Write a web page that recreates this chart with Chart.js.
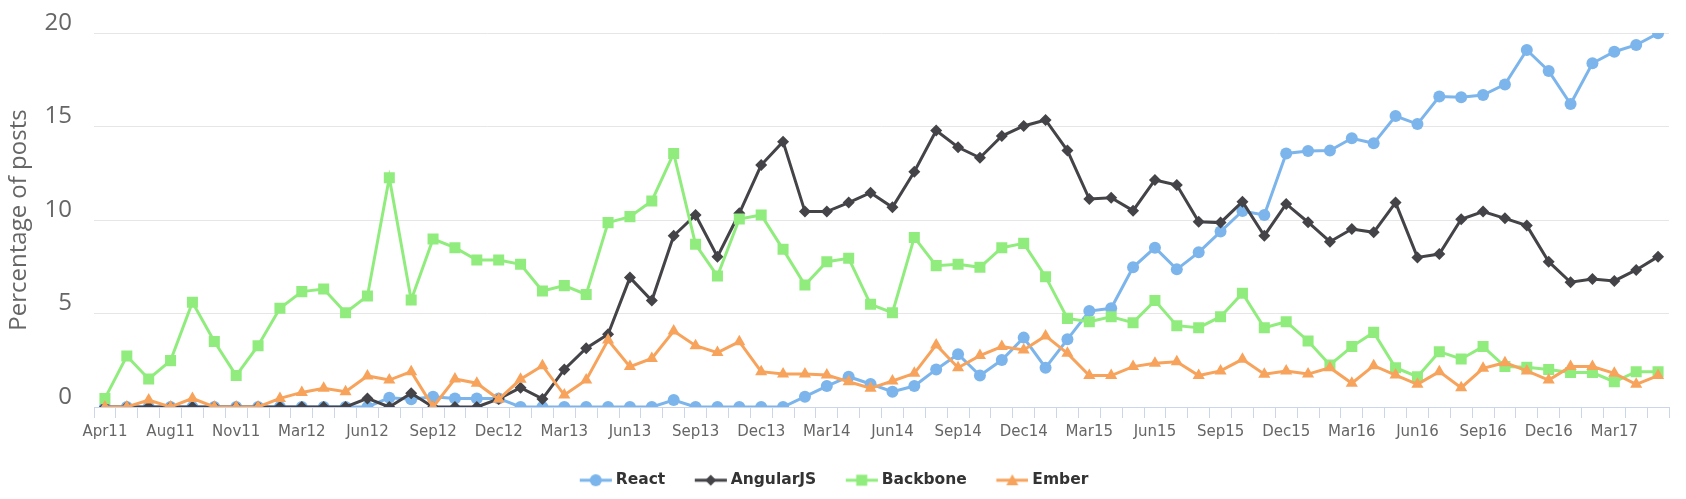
<!DOCTYPE html>
<html>
<head>
<meta charset="utf-8">
<script src="https://cdn.jsdelivr.net/npm/chart.js@4"></script>
<style>
html, body { margin: 0; padding: 0; background: #fff; }
#wrap { width: 1686px; height: 499px; }
</style>
</head>
<body>
<div id="wrap"><canvas id="energyChart" width="1686" height="499"></canvas></div>
<script>
// ----------------------------
// DATA
// ----------------------------

const months = ['Apr11','May11','Jun11','Aug11','Sep11','Oct11','Nov11','Dec11','Jan12','Mar12','Apr12','May12',
  'Jun12','Jul12','Aug12','Sep12','Oct12','Nov12','Dec12','Jan13','Feb13','Mar13','Apr13','May13',
  'Jun13','Jul13','Aug13','Sep13','Oct13','Nov13','Dec13','Jan14','Feb14','Mar14','Apr14','May14',
  'Jun14','Jul14','Aug14','Sep14','Oct14','Nov14','Dec14','Jan15','Feb15','Mar15','Apr15','May15',
  'Jun15','Jul15','Aug15','Sep15','Oct15','Nov15','Dec15','Jan16','Feb16','Mar16','Apr16','May16',
  'Jun16','Jul16','Aug16','Sep16','Oct16','Nov16','Dec16','Jan17','Feb17','Mar17','Apr17','May17']

const react = [0,0,0,0,0,0,0,0,0,0,0,0,
  0,0.5,0.41,0.55,0.46,0.46,0.46,0,0,0,0,0,
  0,0,0.37,0,0,0,0,0,0.55,1.12,1.62,1.23,
  0.82,1.12,2.01,2.82,1.68,2.51,3.71,2.1,3.62,5.13,5.28,7.47,
  8.52,7.36,8.27,9.38,10.48,10.27,13.56,13.69,13.71,14.37,14.1,15.56,
  15.13,16.6,16.56,16.68,17.25,19.09,17.97,16.2,18.38,19.0,19.36,19.98]

const angular = [0,0,0,0,0,0,0,0,0,0,0,0,
  0.46,0,0.73,0,0,0,0.43,1.03,0.43,2.01,3.14,3.89,
  6.92,5.69,9.16,10.27,8.04,10.36,12.94,14.19,10.45,10.45,10.93,11.46,
  10.68,12.58,14.78,13.89,13.33,14.49,15.03,15.35,13.71,11.12,11.19,10.5,
  12.14,11.87,9.91,9.86,10.98,9.16,10.86,9.88,8.84,9.52,9.34,10.93,
  8.0,8.18,10.04,10.45,10.09,9.7,7.77,6.67,6.84,6.74,7.33,8.04]

const backbone = [0.46,2.73,1.5,2.48,5.6,3.5,1.68,3.28,5.28,6.17,6.31,5.04,
  5.94,12.26,5.72,8.98,8.52,7.86,7.86,7.63,6.2,6.49,6.02,9.86,
  10.18,11.02,13.56,8.7,7.0,10.05,10.27,8.43,6.52,7.77,7.95,5.49,
  5.04,9.07,7.56,7.63,7.47,8.52,8.75,6.97,4.74,4.56,4.83,4.51,
  5.69,4.35,4.24,4.83,6.08,4.24,4.56,3.53,2.25,3.23,3.99,2.1,
  1.62,2.96,2.57,3.23,2.16,2.12,2.01,1.84,1.84,1.35,1.89,1.89]

const ember = [0,0,0.37,0,0.46,0,0,0,0.46,0.78,1.0,0.82,
  1.66,1.44,1.89,0,1.5,1.27,0.41,1.48,2.21,0.64,1.44,3.58,
  2.16,2.6,4.06,3.28,2.91,3.49,1.89,1.76,1.76,1.71,1.35,1.0,
  1.39,1.8,3.32,2.1,2.75,3.23,3.05,3.8,2.87,1.68,1.68,2.16,
  2.34,2.42,1.68,1.93,2.55,1.75,1.93,1.76,2.1,1.27,2.21,1.71,
  1.21,1.89,1.03,2.07,2.37,1.93,1.44,2.16,2.16,1.8,1.21,1.68]

const yTicks = [0, 5, 10, 15, 20]

const seriesNames = ['React', 'AngularJS', 'Backbone', 'Ember']
const seriesColors = ['#7cb5ec', '#434348', '#90ed7d', '#f7a35c']
const seriesMarkers = ['circle', 'rectRot', 'rect', 'triangle']
const markerRadius = [6, 6, 7.8, 7]

// ------------------------------------
// LEGEND ICONS (line + marker)
// ------------------------------------

function legendIcon(color, marker){
  const c = document.createElement('canvas')
  c.width = 35
  c.height = 16
  const g = c.getContext('2d')
  g.strokeStyle = color
  g.fillStyle = color
  g.lineWidth = 3
  g.beginPath()
  g.moveTo(2.9, 8)
  g.lineTo(34.9, 8)
  g.stroke()
  const cx = 18.9, cy = 8
  g.beginPath()
  if(marker === 'circle'){
    g.arc(cx, cy, 6, 0, Math.PI*2)
  }
  else if(marker === 'rectRot'){
    g.moveTo(cx, cy-5.5); g.lineTo(cx+5.5, cy); g.lineTo(cx, cy+5.5); g.lineTo(cx-5.5, cy)
  }
  else if(marker === 'rect'){
    g.rect(cx-5.5, cy-5.5, 11, 11)
  }
  else {
    g.moveTo(cx, cy-6); g.lineTo(cx+6, cy+5); g.lineTo(cx-6, cy+5)
  }
  g.closePath()
  g.fill()
  return c
}

const icons = seriesColors.map((c,i)=>legendIcon(c, seriesMarkers[i]))

// ------------------------------------
// CHART
// ------------------------------------

const allSeries = [react, angular, backbone, ember]

const datasets = allSeries.map((d,i)=>({
  label: seriesNames[i],
  data: d,
  borderColor: seriesColors[i],
  backgroundColor: seriesColors[i],
  borderWidth: 3,
  pointStyle: seriesMarkers[i],
  pointRadius: markerRadius[i],
  pointHoverRadius: markerRadius[i],
  pointBorderWidth: 0,
  pointBackgroundColor: seriesColors[i],
  tension: 0,
  fill: false,
  order: 3 - i
}))

const ctx = document.getElementById('energyChart').getContext('2d')

const chart = new Chart(ctx, {
  type: 'line',
  data: { labels: months, datasets: datasets },
  options: {
    responsive: false,
    animation: false,
    devicePixelRatio: 1,
    layout: { padding: { top: 33, right: 17, bottom: 1, left: 0 } },
    plugins: {
      tooltip: { enabled: false },
      legend: {
        position: 'bottom',
        labels: {
          usePointStyle: true,
          pointStyleWidth: 27.25,
          boxHeight: 16,
          padding: 30.5,
          color: '#333',
          font: { family: 'DejaVu Sans', size: 15.5, weight: 'bold' },
          generateLabels: (ch)=> ch.data.datasets.map((ds,i)=>({
            text: ds.label,
            pointStyle: icons[i],
            fillStyle: seriesColors[i],
            strokeStyle: seriesColors[i],
            lineWidth: 0,
            fontColor: '#333',
            hidden: false,
            datasetIndex: i
          }))
        }
      }
    },
    scales: {
      x: {
        type: 'category',
        offset: true,
        afterFit: (s)=>{ s.height = 35 },
        grid: {
          offset: true,
          drawOnChartArea: false,
          drawTicks: true,
          tickLength: 11,
          color: '#ccd6eb'
        },
        border: { display: true, color: '#ccd6eb', width: 1 },
        ticks: {
          autoSkip: false,
          maxRotation: 0,
          minRotation: 0,
          padding: 5,
          color: '#666',
          font: { family: 'DejaVu Sans', size: 15 },
          callback: function(v, idx){ return idx % 3 === 0 ? months[idx] : '' }
        }
      },
      y: {
        min: 0,
        max: 20,
        afterFit: (s)=>{ s.width = 94; s.paddingTop = 0; s.paddingBottom = 0 },
        afterBuildTicks: (s)=>{ s.ticks = yTicks.map(v=>({ value: v })) },
        grid: { color: '#e6e6e6', drawTicks: false, lineWidth: 1 },
        border: { display: false },
        ticks: {
          padding: 22,
          color: '#666',
          font: { family: 'Open Sans', size: 24, lineHeight: 0.85 },
          callback: (v)=>[String(v), '']
        },
        title: {
          display: true,
          text: 'Percentage of posts',
          color: '#666',
          padding: { top: 5, bottom: 0 },
          font: { family: 'Open Sans', size: 24 }
        }
      }
    }
  }
})
</script>
</body>
</html>
